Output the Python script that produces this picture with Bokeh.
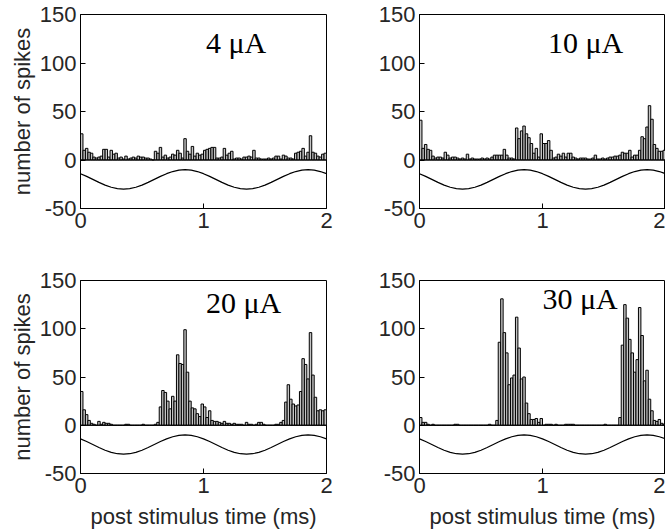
from bokeh.plotting import figure
from bokeh.layouts import gridplot
from bokeh.models import FixedTicker, Range1d, Span, Label
from bokeh.embed import file_html
from bokeh.resources import INLINE

# ---------------- data ----------------
bin_width = 0.02  # ms, 100 bins from 0 to 2 ms

counts_4uA = [27, 10, 12, 8, 7, 3, 2, 3, 4, 11,
              11, 3, 10, 6, 7, 2, 3, 1, 4, 1,
              2, 3, 2, 4, 3, 3, 2, 2, 1, 0,
              9, 7, 13, 3, 5, 2, 3, 6, 5, 10,
              7, 2, 22, 9, 6, 14, 4, 7, 5, 6,
              10, 11, 12, 13, 13, 2, 2, 3, 12, 5,
              7, 9, 1, 2, 2, 1, 3, 3, 4, 3,
              10, 2, 2, 1, 1, 1, 2, 1, 2, 4,
              4, 1, 5, 4, 2, 2, 1, 7, 8, 9,
              12, 4, 8, 25, 8, 7, 4, 3, 6, 7]

counts_10uA = [41, 12, 16, 11, 10, 4, 2, 3, 3, 2,
               8, 5, 2, 3, 3, 2, 1, 2, 1, 6,
               1, 2, 1, 1, 1, 2, 1, 2, 1, 3,
               5, 5, 5, 5, 11, 5, 2, 2, 1, 33,
               22, 30, 35, 27, 23, 17, 7, 12, 3, 27,
               17, 17, 20, 10, 2, 3, 6, 4, 7, 3,
               7, 7, 3, 2, 1, 2, 2, 2, 1, 1,
               2, 5, 1, 1, 2, 1, 2, 3, 3, 4,
               4, 5, 8, 7, 7, 10, 3, 5, 5, 10,
               24, 22, 34, 56, 42, 16, 12, 9, 9, 10]

counts_20uA = [35, 16, 11, 5, 2, 1, 0, 4, 1, 3,
               2, 2, 1, 0, 0, 0, 0, 0, 1, 1,
               0, 0, 0, 0, 0, 1, 0, 0, 0, 0,
               1, 3, 19, 36, 34, 25, 17, 30, 25, 73,
               64, 63, 99, 55, 25, 18, 17, 12, 9, 22,
               19, 8, 15, 5, 4, 4, 3, 2, 4, 2,
               2, 1, 2, 1, 1, 1, 0, 3, 1, 1,
               0, 1, 3, 3, 1, 0, 0, 0, 0, 1,
               1, 3, 5, 24, 42, 27, 22, 20, 21, 35,
               69, 63, 48, 96, 52, 29, 15, 16, 15, 16]

counts_30uA = [8, 3, 3, 1, 0, 1, 0, 0, 0, 0,
               0, 0, 0, 0, 1, 1, 0, 0, 0, 0,
               0, 0, 0, 0, 0, 0, 0, 0, 1, 0,
               0, 5, 86, 131, 96, 75, 42, 49, 52, 112,
               80, 48, 50, 23, 12, 6, 6, 7, 3, 7,
               0, 1, 1, 1, 0, 1, 0, 0, 0, 1,
               1, 1, 1, 0, 0, 0, 0, 0, 0, 0,
               0, 0, 0, 0, 0, 1, 0, 0, 0, 0,
               0, 8, 83, 125, 111, 89, 75, 55, 68, 122,
               93, 46, 57, 27, 15, 5, 4, 6, 2, 1]

# stimulus waveform drawn under each histogram
stim_t = [0.00, 0.05, 0.10, 0.15, 0.20, 0.25, 0.30, 0.35, 0.40, 0.45,
          0.50, 0.55, 0.60, 0.65, 0.70, 0.75, 0.80, 0.85, 0.90, 0.95,
          1.00, 1.05, 1.10, 1.15, 1.20, 1.25, 1.30, 1.35, 1.40, 1.45,
          1.50, 1.55, 1.60, 1.65, 1.70, 1.75, 1.80, 1.85, 1.90, 1.95, 2.00]
stim_v = [-14.1, -16.9, -20.0, -23.1, -25.9, -28.1, -29.5, -30.0, -29.5, -28.1,
          -25.9, -23.1, -20.0, -16.9, -14.1, -11.9, -10.5, -10.0, -10.5, -11.9,
          -14.1, -16.9, -20.0, -23.1, -25.9, -28.1, -29.5, -30.0, -29.5, -28.1,
          -25.9, -23.1, -20.0, -16.9, -14.1, -11.9, -10.5, -10.0, -10.5, -11.9, -14.1]

panel_labels = ["4 \u03bcA", "10 \u03bcA", "20 \u03bcA", "30 \u03bcA"]
x_ticks = [0, 1, 2]
y_ticks = [-50, 0, 50, 100, 150]
y_tick_text = {-50: "-50", 0: "0", 50: "50", 100: "100", 150: "150"}
x_label = "post stimulus time (ms)"
y_label = "number of spikes"

TICK_FONT = "Liberation Sans"
TEXT_COLOR = "#262626"


def make_panel(counts, label, lx, ly, width, height, bl, br, bt, bb, ylab, xlab):
    p = figure(width=width, height=height, x_range=Range1d(0, 2), y_range=Range1d(-50, 150),
               output_backend="svg", toolbar_location=None,
               min_border_left=bl, min_border_right=br, min_border_top=bt, min_border_bottom=bb)
    p.grid.visible = False
    p.outline_line_color = "black"
    p.outline_line_width = 1
    p.background_fill_color = "white"
    p.border_fill_color = "white"

    centers = [(i + 0.5) * bin_width for i in range(len(counts))]
    p.vbar(x=centers, top=counts, bottom=0, width=bin_width,
           fill_color="#c4c4c4", line_color="black", line_width=1)
    p.add_layout(Span(location=0, dimension="width", line_color="black", line_width=1))
    p.line(stim_t, stim_v, line_color="black", line_width=1.2)

    p.add_layout(Label(x=lx, y=ly, text=label, text_font="Liberation Serif",
                       text_font_size="30px", text_color="black",
                       text_align="left", text_baseline="alphabetic"))

    p.xaxis.ticker = FixedTicker(ticks=x_ticks)
    p.yaxis.ticker = FixedTicker(ticks=y_ticks)
    p.yaxis.major_label_overrides = y_tick_text
    for ax in (p.xaxis[0], p.yaxis[0]):
        ax.major_tick_in = 5
        ax.major_tick_out = 0
        ax.minor_tick_line_color = None
        ax.major_tick_line_color = "black"
        ax.axis_line_color = "black"
        ax.major_label_text_font = TICK_FONT
        ax.major_label_text_font_size = "22px"
        ax.major_label_text_color = TEXT_COLOR
        ax.major_label_standoff = 4
        ax.axis_label_text_font = TICK_FONT
        ax.axis_label_text_font_size = "22px"
        ax.axis_label_text_font_style = "normal"
        ax.axis_label_text_color = TEXT_COLOR
    p.xaxis.axis_label_standoff = 8
    p.yaxis.axis_label_standoff = 2
    if ylab:
        p.yaxis.axis_label = y_label
    if xlab:
        p.xaxis.axis_label = x_label
    return p


p1 = make_panel(counts_4uA, panel_labels[0], 1.02, 121, 368, 268, 80, 42, 14, 60, True, False)
p2 = make_panel(counts_10uA, panel_labels[1], 1.045, 121, 297, 268, 51, 0, 14, 60, False, False)
p3 = make_panel(counts_20uA, panel_labels[2], 1.02, 127, 368, 263, 80, 42, 12, 57, True, True)
p4 = make_panel(counts_30uA, panel_labels[3], 1.0, 131, 297, 263, 51, 0, 12, 57, False, True)

grid = gridplot([[p1, p2], [p3, p4]], toolbar_location=None)

open("out.html", "w").write(file_html(grid, INLINE))
